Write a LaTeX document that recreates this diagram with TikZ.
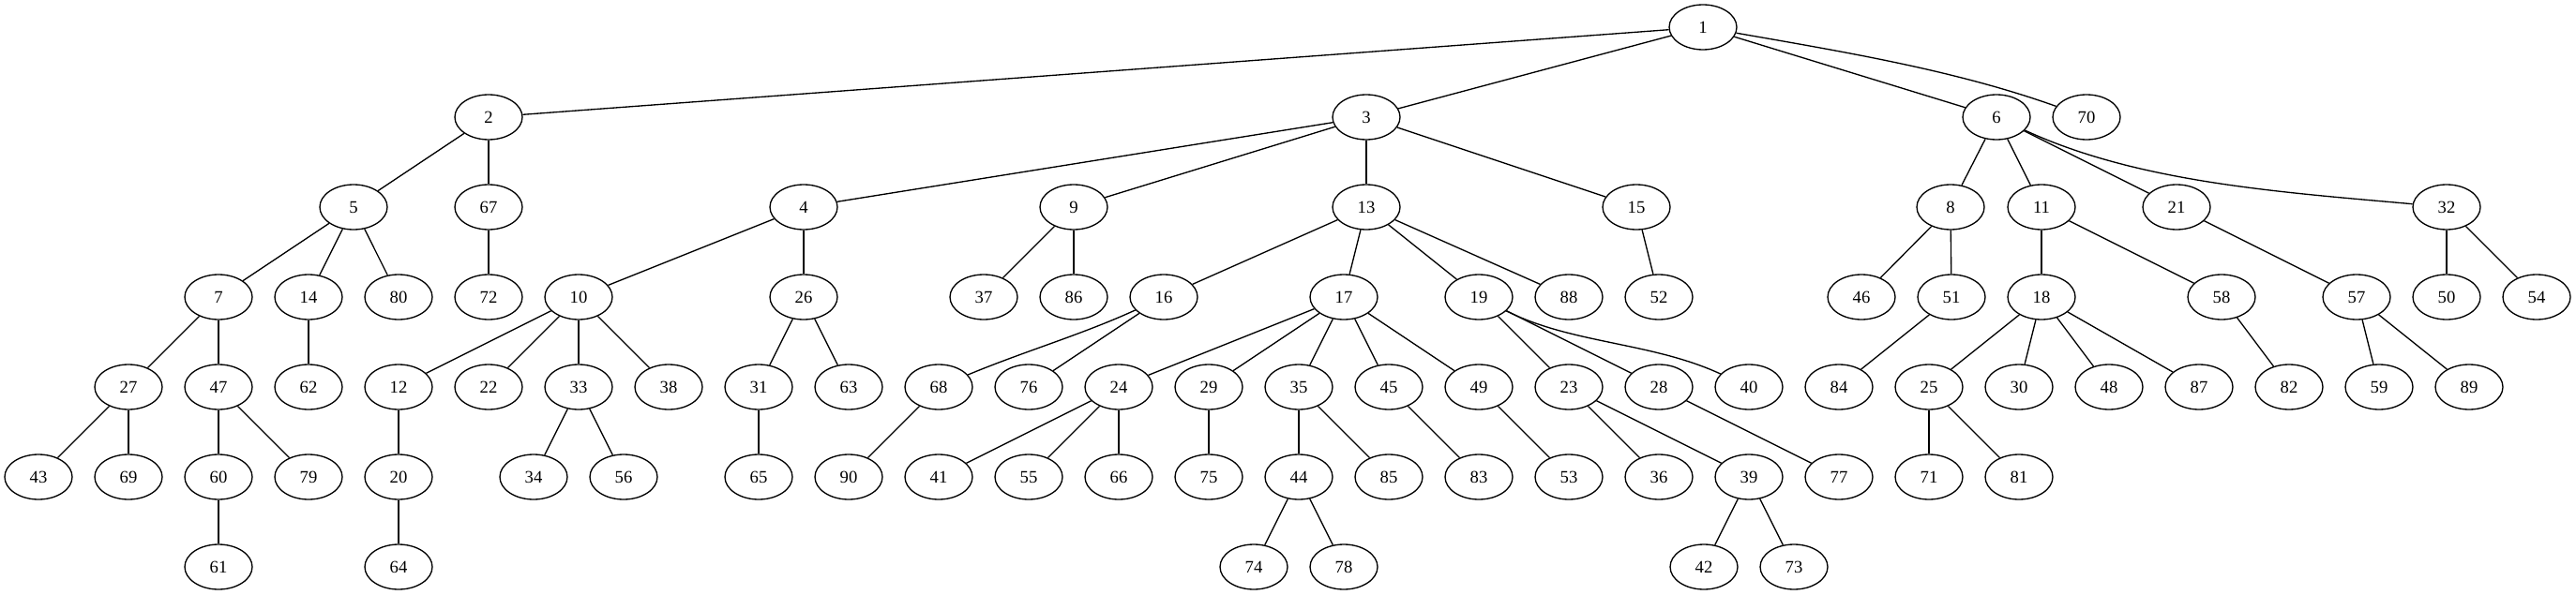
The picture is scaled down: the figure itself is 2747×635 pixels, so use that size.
\documentclass[tikz,border=0pt]{standalone}
\usepackage{fontspec}
\setmainfont{Liberation Serif}
\usetikzlibrary{shapes.geometric}
\begin{document}
\begin{tikzpicture}[x=0.75pt,y=-0.75pt,
  nd/.style={draw,ellipse,line width=1pt,minimum width=54pt,minimum height=36pt,inner sep=0pt,
    font=\fontsize{14pt}{16pt}\selectfont},
  edge/.style={line width=1pt}]
\useasboundingbox (0,0) rectangle (2747,635);
% row 0
\node[nd] (n1) at (1816,29) {1};
% row 1
\foreach \n/\x in {2/521,3/1457,6/2129,70/2225}
  \node[nd] (n\n) at (\x,125) {\n};
% row 2
\foreach \n/\x in {5/377,67/521,4/857,9/1145,13/1457,15/1745,8/2080,11/2177,21/2321,32/2609}
  \node[nd] (n\n) at (\x,221) {\n};
% row 3
\foreach \n/\x in {7/233,14/329,80/425,72/521,10/617,26/857,37/1049,86/1145,16/1241,17/1433,19/1577,88/1673,52/1769,46/1985,51/2081,18/2177,58/2369,57/2513,50/2609,54/2705}
  \node[nd] (n\n) at (\x,317) {\n};
% row 4
\foreach \n [count=\k from 0] in {27,47,62,12,22,33,38,31,63,68,76,24,29,35,45,49,23,28,40,84,25,30,48,87,82,59,89}
  \node[nd] (n\n) at ({137+96*\k},413) {\n};
% row 5
\foreach \n/\x in {43/41,69/137,60/233,79/329,20/425,34/569,56/665,65/809,90/905,41/1001,55/1097,66/1193,75/1289,44/1385,85/1481,83/1577,53/1673,36/1769,39/1865,77/1961,71/2057,81/2153}
  \node[nd] (n\n) at (\x,509) {\n};
% row 6
\foreach \n/\x in {61/233,64/425,74/1337,78/1433,42/1817,73/1913}
  \node[nd] (n\n) at (\x,605) {\n};
% straight edges
\foreach \a/\b in {1/2,1/3,1/6,2/5,2/67,3/4,3/9,3/13,3/15,6/8,6/11,6/21,
  5/7,5/14,5/80,67/72,4/10,4/26,9/37,9/86,13/16,13/17,13/19,13/88,15/52,8/46,8/51,
  11/18,11/58,21/57,32/50,32/54,7/27,7/47,14/62,10/12,10/22,10/33,10/38,26/31,26/63,
  16/76,17/24,17/29,17/35,17/45,17/49,19/23,19/28,51/84,18/25,18/30,18/48,18/87,
  58/82,57/59,57/89,27/43,27/69,47/60,47/79,12/20,33/34,33/56,31/65,68/90,
  24/41,24/55,24/66,29/75,35/44,35/85,45/83,49/53,23/36,23/39,28/77,25/71,25/81,
  60/61,20/64,44/74,44/78,39/42,39/73}
  \draw[edge] (n\a) -- (n\b);
% curved edges
\draw[edge] (n1) .. controls (1970,56) and (2085,75) .. (n70);
\draw[edge] (n6) .. controls (2280,195) and (2432,205) .. (n32);
\draw[edge] (n16) .. controls (1154,357) and (1092,375) .. (n68);
\draw[edge] (n19) .. controls (1676,367) and (1761,365) .. (n40);
\end{tikzpicture}
\end{document}
